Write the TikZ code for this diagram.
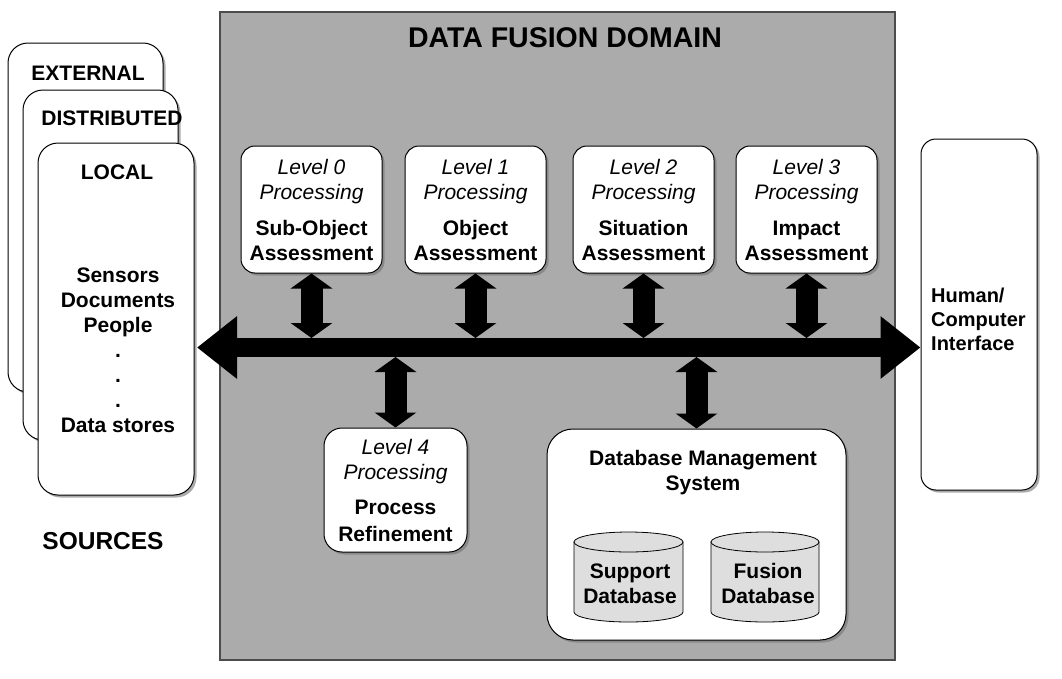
\documentclass[tikz,border=0pt]{standalone}
\usepackage{fontspec}
\setmainfont{Liberation Sans}
\usetikzlibrary{shadows,arrows.meta}
\definecolor{domaingray}{HTML}{ABABAB}
\definecolor{cylgray}{HTML}{DEDEDE}
\begin{document}
\begin{tikzpicture}[x=1pt,y=-1pt,
  shadowed/.style={drop shadow={shadow xshift=2.5pt,shadow yshift=-2.5pt,fill=black!55,opacity=0.6}},
  rbox/.style={draw=black,line width=1pt,fill=white,rounded corners=#1,shadowed,inner sep=0pt},
  rbox/.default=14pt,
  lbl/.style={font=\fontsize{21}{25}\selectfont\bfseries,align=center,inner sep=0pt},
  lvl/.style={rbox,minimum width=141pt,minimum height=127pt,align=center,font=\fontsize{21}{25}\selectfont},
  vbi/.style={line width=22pt,{Triangle[length=15pt,width=41pt]}-{Triangle[length=15pt,width=41pt]}},
  busarrow/.style={line width=19pt,{Triangle[length=40pt,width=60pt]}-{Triangle[length=40pt,width=60pt]}},
  cyl/.style={draw=black,line width=0.8pt,fill=cylgray}
]
\useasboundingbox (0,0) rectangle (1062,678);

% sources stack
\node[rbox=20pt,minimum width=155pt,minimum height=349pt] (ext) at (85.5,217.5) {};
\node[lbl] (extlbl) at (88,73) {EXTERNAL};
\node[rbox=20pt,minimum width=155pt,minimum height=350pt] (dist) at (100.5,265) {};
\node[lbl] (distlbl) at (112,118) {DISTRIBUTED};
\node[rbox=20pt,minimum width=156pt,minimum height=352pt] (local) at (116,319) {};
\node[lbl] (loclbl) at (117,172) {LOCAL};
\node[lbl] (loclist) at (118,350) {Sensors\\Documents\\People\\.\\.\\.\\Data stores};
\node[font=\fontsize{24.5}{28}\selectfont\bfseries,inner sep=0pt] (sources) at (103,541) {SOURCES};

% data fusion domain
\node[draw=black!70,line width=1.2pt,fill=domaingray,minimum width=675pt,minimum height=648pt,inner sep=0pt] (domain) at (557.5,336) {};
\node[font=\fontsize{28.5}{32}\selectfont\bfseries,inner sep=0pt] (title) at (565,38) {DATA FUSION DOMAIN};

% level boxes
\node[lvl] (l0) at (311.5,209.5) {\textit{Level 0}\\\textit{Processing}\\[11pt]\textbf{Sub-Object}\\\textbf{Assessment}};
\node[lvl] (l1) at (475.5,209.5) {\textit{Level 1}\\\textit{Processing}\\[11pt]\textbf{Object}\\\textbf{Assessment}};
\node[lvl] (l2) at (643.5,209.5) {\textit{Level 2}\\\textit{Processing}\\[11pt]\textbf{Situation}\\\textbf{Assessment}};
\node[lvl] (l3) at (806.5,209.5) {\textit{Level 3}\\\textit{Processing}\\[11pt]\textbf{Impact}\\\textbf{Assessment}};

% lower boxes
\node[rbox=18pt,minimum width=143pt,minimum height=124pt,align=center,font=\fontsize{21}{25}\selectfont] (l4) at (395.5,490) {\textit{Level 4}\\\textit{Processing}\\[10pt]\textbf{Process}\\[2pt]\textbf{Refinement}};
\node[rbox=26pt,minimum width=299pt,minimum height=211pt] (dbms) at (696.5,534.5) {};
\node[lbl] (dbmslbl) at (703,473) {Database Management\\System};

% cylinders
\path[cyl] (574,542) -- (574,612) arc[start angle=180,end angle=360,x radius=54.5pt,y radius=10pt] -- (683,542) -- cycle;
\draw[cyl] (628.5,542) ellipse[x radius=54.5pt,y radius=10pt];
\node[lbl] (supp) at (630,583.5) {Support\\Database};
\path[cyl] (711,542) -- (711,612) arc[start angle=180,end angle=360,x radius=54pt,y radius=10pt] -- (819,542) -- cycle;
\draw[cyl] (765,542) ellipse[x radius=54pt,y radius=10pt];
\node[lbl] (fus) at (768,583.5) {Fusion\\Database};

% human computer interface
\node[rbox=15pt,minimum width=116pt,minimum height=351pt] (hci) at (979,314.5) {};
\node[font=\fontsize{20}{24}\selectfont\bfseries,align=left,inner sep=0pt,anchor=west] (hcilbl) at (931,319) {Human/\\Computer\\Interface};

% bus
\coordinate (busL) at (197,347.5);
\coordinate (bustop) at (0,338);
\coordinate (busbot) at (0,357);
\draw[busarrow] (busL) -- (hci.west |- busL);

% vertical double arrows
\draw[vbi] (l0.south) -- (l0.south |- bustop);
\draw[vbi] (l1.south) -- (l1.south |- bustop);
\draw[vbi] (l2.south) -- (l2.south |- bustop);
\draw[vbi] (l3.south) -- (l3.south |- bustop);
\draw[vbi] (busbot -| l4.north) -- (l4.north);
\draw[vbi] (busbot -| dbms.north) -- (dbms.north);
\end{tikzpicture}
\end{document}
